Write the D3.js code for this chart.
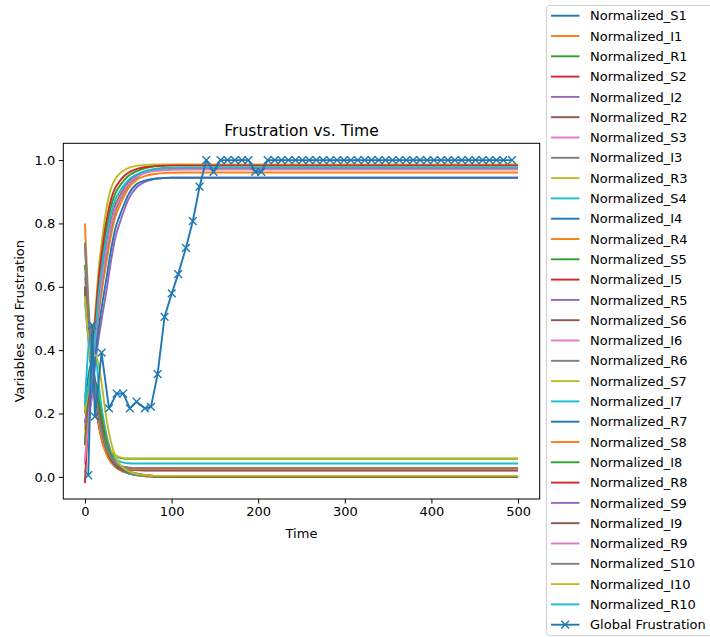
<!DOCTYPE html>
<html>
<head>
<meta charset="utf-8">
<script src="https://cdn.jsdelivr.net/npm/d3@7"></script>
<style>
  body { margin: 0; background: #fff; }
  text { font-family: "DejaVu Sans", sans-serif; }
</style>
</head>
<body>
<svg id="chart" width="710" height="637"></svg>
<script>
// Sample times shared by the normalized S/I/R traces
const time = [0, 4, 8, 12, 16, 20, 25, 30, 35, 40, 45, 50, 60, 70, 80, 90, 100, 120, 150, 200, 500];

// Susceptible (normalized)
const normS1  = [0.60,0.45,0.33,0.24,0.17,0.12,0.08,0.056,0.043,0.035,0.031,0.028,0.026,0.025,0.025,0.025,0.025,0.025,0.025,0.025,0.025];
const normS2  = [0.58,0.44,0.32,0.23,0.16,0.11,0.075,0.052,0.038,0.030,0.026,0.024,0.022,0.021,0.021,0.021,0.021,0.021,0.021,0.021,0.021];
const normS3  = [0.63,0.47,0.35,0.25,0.18,0.125,0.085,0.058,0.041,0.031,0.026,0.023,0.021,0.020,0.020,0.020,0.020,0.020,0.020,0.020,0.020];
const normS4  = [0.55,0.43,0.33,0.25,0.18,0.13,0.095,0.070,0.056,0.049,0.045,0.043,0.042,0.042,0.042,0.042,0.042,0.042,0.042,0.042,0.042];
const normS5  = [0.67,0.50,0.37,0.27,0.19,0.14,0.10,0.078,0.066,0.060,0.058,0.057,0.057,0.057,0.057,0.057,0.057,0.057,0.057,0.057,0.057];
const normS6  = [0.60,0.45,0.33,0.24,0.17,0.12,0.08,0.055,0.040,0.031,0.026,0.023,0.022,0.021,0.021,0.021,0.021,0.021,0.021,0.021,0.021];
const normS7  = [0.57,0.44,0.34,0.26,0.19,0.14,0.105,0.082,0.069,0.062,0.059,0.058,0.058,0.058,0.058,0.058,0.058,0.058,0.058,0.058,0.058];
const normS8  = [0.80,0.55,0.38,0.26,0.17,0.11,0.07,0.047,0.036,0.030,0.027,0.026,0.025,0.025,0.025,0.025,0.025,0.025,0.025,0.025,0.025];
const normS9  = [0.73,0.52,0.37,0.27,0.19,0.135,0.09,0.062,0.045,0.036,0.031,0.029,0.028,0.028,0.028,0.028,0.028,0.028,0.028,0.028,0.028];
const normS10 = [0.74,0.53,0.38,0.27,0.19,0.13,0.088,0.060,0.044,0.035,0.031,0.029,0.028,0.028,0.028,0.028,0.028,0.028,0.028,0.028,0.028];

// Infected (normalized)
const normI1  = [0.15,0.27,0.32,0.28,0.21,0.14,0.08,0.048,0.031,0.022,0.016,0.012,0.007,0.004,0.002,0.001,0,0,0,0,0];
const normI2  = [0.17,0.24,0.29,0.30,0.26,0.20,0.13,0.08,0.05,0.033,0.023,0.016,0.009,0.005,0.003,0.002,0.001,0,0,0,0];
const normI3  = [0.25,0.30,0.30,0.25,0.18,0.12,0.072,0.046,0.033,0.026,0.021,0.017,0.011,0.006,0.003,0.001,0,0,0,0,0];
const normI4  = [0.22,0.32,0.36,0.30,0.22,0.15,0.09,0.055,0.035,0.024,0.017,0.012,0.006,0.003,0.001,0,0,0,0,0,0];
const normI5  = [0.10,0.24,0.31,0.29,0.23,0.16,0.10,0.06,0.037,0.024,0.016,0.011,0.005,0.002,0.001,0,0,0,0,0,0];
const normI6  = [0.04,0.16,0.25,0.28,0.25,0.19,0.12,0.072,0.045,0.029,0.019,0.013,0.006,0.003,0.001,0,0,0,0,0,0];
const normI7  = [0.23,0.41,0.47,0.40,0.29,0.20,0.12,0.07,0.042,0.027,0.018,0.012,0.006,0.003,0.001,0,0,0,0,0,0];
const normI8  = [0.10,0.22,0.30,0.29,0.24,0.18,0.11,0.07,0.045,0.030,0.020,0.014,0.007,0.003,0.001,0,0,0,0,0,0];
const normI9  = [0.20,0.28,0.31,0.27,0.20,0.14,0.085,0.053,0.036,0.027,0.021,0.016,0.009,0.004,0.002,0.001,0,0,0,0,0];
const normI10 = [0.20,0.28,0.36,0.385,0.35,0.28,0.18,0.11,0.066,0.041,0.027,0.018,0.009,0.005,0.003,0.003,0.003,0.003,0.003,0.003,0.003];

// Recovered (normalized)
const normR1  = [0.10,0.22,0.36,0.48,0.605,0.694,0.785,0.853,0.894,0.918,0.936,0.950,0.965,0.975,0.980,0.983,0.984,0.985,0.985,0.985,0.985];
const normR2  = [0.20,0.26,0.33,0.45,0.56,0.645,0.733,0.806,0.857,0.886,0.910,0.930,0.952,0.964,0.970,0.973,0.974,0.975,0.975,0.975,0.975];
const normR3  = [0.13,0.25,0.40,0.52,0.66,0.755,0.85,0.91,0.94,0.957,0.968,0.975,0.982,0.985,0.986,0.986,0.986,0.986,0.986,0.986,0.986];
const normR4  = [0.22,0.25,0.30,0.416,0.517,0.596,0.681,0.76,0.82,0.855,0.885,0.910,0.938,0.950,0.956,0.959,0.960,0.961,0.961,0.961,0.961];
const normR5  = [0.17,0.20,0.25,0.36,0.44,0.51,0.59,0.68,0.755,0.80,0.84,0.875,0.915,0.932,0.940,0.943,0.945,0.945,0.945,0.945,0.945];
const normR6  = [0.25,0.28,0.318,0.43,0.54,0.62,0.707,0.784,0.838,0.871,0.898,0.920,0.945,0.962,0.969,0.972,0.974,0.975,0.975,0.975,0.975];
const normR7  = [0.20,0.23,0.27,0.384,0.473,0.547,0.629,0.715,0.783,0.824,0.859,0.890,0.925,0.936,0.941,0.943,0.944,0.944,0.944,0.944,0.944];
const normR8  = [-0.02,0.20,0.38,0.50,0.63,0.72,0.81,0.875,0.912,0.933,0.949,0.960,0.972,0.978,0.981,0.982,0.983,0.983,0.983,0.983,0.983];
const normR9  = [0.05,0.18,0.325,0.44,0.55,0.633,0.72,0.795,0.848,0.879,0.904,0.925,0.948,0.960,0.965,0.968,0.969,0.970,0.970,0.970,0.970];
const normR10 = [0.23,0.28,0.35,0.46,0.58,0.67,0.76,0.83,0.875,0.90,0.92,0.937,0.955,0.966,0.972,0.975,0.976,0.977,0.977,0.977,0.977];

// Global frustration, recorded at the solver's own steps
const frustTime = [3.8, 8.4, 11.5, 19.2, 27.7, 36.6, 44.2, 51.9, 59.6, 69.2, 76.2, 83.9, 91.9, 100.2, 107.6, 116.6, 124.5, 132.3,
  140.1, 148.4, 156.6, 164.8, 173, 181.3, 188.7, 196.5, 203.5, 211, 219, 227, 235, 243, 251, 259, 267, 275, 283, 291, 299,
  307, 315, 323, 331, 339, 347, 355, 363, 371, 379, 387, 395, 403, 411, 419, 427, 435, 443, 451, 459, 467, 475, 483, 493];
const frustValue = [0.005, 0.479, 0.19, 0.392, 0.216, 0.263, 0.263, 0.216, 0.237, 0.216, 0.221, 0.324, 0.505, 0.579, 0.64, 0.723, 0.807, 0.916,
  1, 0.963, 1, 1, 1, 1, 1, 0.963, 0.963, 1, 1, 1, 1, 1, 1, 1, 1, 1, 1, 1, 1,
  1, 1, 1, 1, 1, 1, 1, 1, 1, 1, 1, 1, 1, 1, 1, 1, 1, 1, 1, 1, 1, 1, 1, 1];

const xTicks = [0, 100, 200, 300, 400, 500];
const yTicks = [0, 0.2, 0.4, 0.6, 0.8, 1.0];

const seriesValues = [
  normS1, normI1, normR1, normS2, normI2, normR2, normS3, normI3, normR3, normS4, normI4, normR4,
  normS5, normI5, normR5, normS6, normI6, normR6, normS7, normI7, normR7, normS8, normI8, normR8,
  normS9, normI9, normR9, normS10, normI10, normR10
];
const seriesNames = [];
for (let k = 1; k <= 10; k++) ["S", "I", "R"].forEach(v => seriesNames.push(`Normalized_${v}${k}`));

const colors = d3.schemeCategory10;
const svg = d3.select("#chart");

const plot = { left: 63.3, right: 539.7, top: 143.3, bottom: 499 };
const x = d3.scaleLinear().domain([-25, 525]).range([plot.left, plot.right]);
const y = d3.scaleLinear().domain([-0.07, 1.053]).range([plot.bottom, plot.top]);

const g = svg.append("g");

// traces
const line = d3.line().x(d => x(d[0])).y(d => y(d[1])).curve(d3.curveMonotoneX);
seriesValues.forEach((vals, i) => {
  g.append("path")
    .datum(time.map((t, j) => [t, vals[j]]))
    .attr("d", line)
    .attr("fill", "none")
    .attr("stroke", colors[i % 10])
    .attr("stroke-width", 1.9)
    .attr("stroke-linejoin", "round")
    .attr("stroke-linecap", "butt");
});

const frust = frustTime.map((t, j) => [t, frustValue[j]]);
const flat = d3.line().x(d => x(d[0])).y(d => y(d[1]));
g.append("path").datum(frust).attr("d", flat)
  .attr("fill", "none").attr("stroke", colors[0]).attr("stroke-width", 1.9).attr("stroke-linejoin", "round");

const cross = (sel, s) => sel.append("path")
  .attr("d", `M${-s},${-s}L${s},${s}M${-s},${s}L${s},${-s}`)
  .attr("stroke", colors[0]).attr("stroke-width", 1.4).attr("fill", "none");
frust.forEach(d => {
  const m = g.append("g").attr("transform", `translate(${x(d[0])},${y(d[1])})`);
  cross(m, 3.9);
});

// frame
svg.append("rect")
  .attr("x", plot.left).attr("y", plot.top)
  .attr("width", plot.right - plot.left).attr("height", plot.bottom - plot.top)
  .attr("fill", "none").attr("stroke", "#000").attr("stroke-width", 1);

// axes
const xAxis = svg.append("g").attr("transform", `translate(0,${plot.bottom})`)
  .call(d3.axisBottom(x).tickValues(xTicks).tickSize(4.5).tickPadding(3.5).tickFormat(d3.format("d")));
const yAxis = svg.append("g").attr("transform", `translate(${plot.left},0)`)
  .call(d3.axisLeft(y).tickValues(yTicks).tickSize(4.5).tickPadding(3.5).tickFormat(d3.format(".1f")));
[xAxis, yAxis].forEach(a => {
  a.select(".domain").remove();
  a.selectAll("text").attr("font-family", "DejaVu Sans").attr("font-size", 13).attr("fill", "#000");
  a.selectAll("line").attr("stroke", "#000").attr("stroke-width", 1);
});

// titles
svg.append("text").attr("x", (plot.left + plot.right) / 2).attr("y", 136)
  .attr("text-anchor", "middle").attr("font-size", 15.6).text("Frustration vs. Time");
svg.append("text").attr("x", (plot.left + plot.right) / 2).attr("y", 538)
  .attr("text-anchor", "middle").attr("font-size", 13).text("Time");
svg.append("text").attr("transform", `translate(24,${(plot.top + plot.bottom) / 2}) rotate(-90)`)
  .attr("text-anchor", "middle").attr("font-size", 13).text("Variables and Frustration");

// legend
const legend = svg.append("g");
legend.append("rect").attr("x", 546.5).attr("y", 5.5).attr("width", 200).attr("height", 630)
  .attr("rx", 3).attr("fill", "#fff").attr("fill-opacity", 0.8).attr("stroke", "#cfcfcf").attr("stroke-width", 1);
const rowY = i => 15.7 + i * 20.3;
seriesNames.concat(["Global Frustration"]).forEach((name, i) => {
  const yy = rowY(i);
  legend.append("line").attr("x1", 551).attr("x2", 579.5).attr("y1", yy).attr("y2", yy)
    .attr("stroke", colors[i % 10]).attr("stroke-width", 1.9);
  legend.append("text").attr("x", 590).attr("y", yy).attr("dy", "0.36em")
    .attr("font-size", 13).text(name);
  if (i === seriesNames.length) {
    const m = legend.append("g").attr("transform", `translate(565.2,${yy})`);
    cross(m, 3.9);
  }
});
</script>
</body>
</html>
